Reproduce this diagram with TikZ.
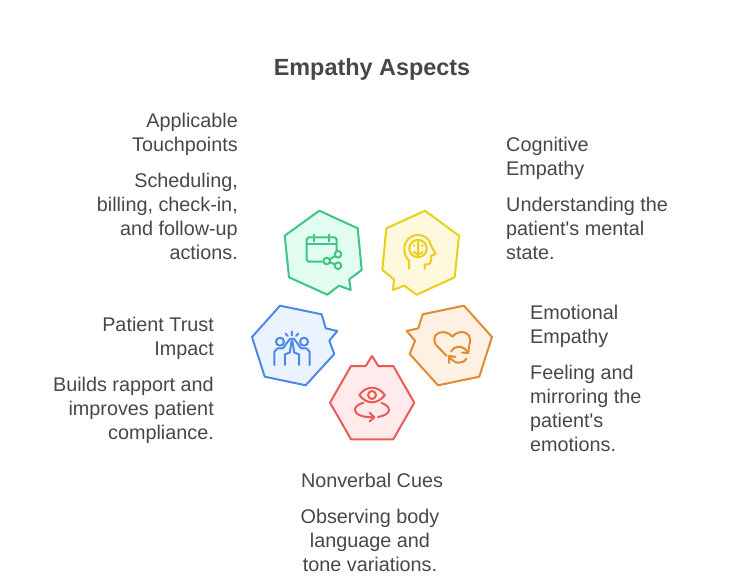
\documentclass[tikz,border=0pt]{standalone}
\usepackage{fontspec}
\setmainfont{Liberation Sans}[Ligatures=TeXOff]
\definecolor{txt}{HTML}{474747}
\definecolor{gS}{HTML}{3CC583}\definecolor{gF}{HTML}{E3FDF0}
\definecolor{yS}{HTML}{E8CF1E}\definecolor{yF}{HTML}{FEF9DC}
\definecolor{bS}{HTML}{4E88E7}\definecolor{bF}{HTML}{EBF3FE}
\definecolor{oS}{HTML}{E08A32}\definecolor{oF}{HTML}{FEF0E3}
\definecolor{rS}{HTML}{E85B56}\definecolor{rF}{HTML}{FFEBEB}
\tikzset{x=1pt,y=-1pt,
 hexa/.style={line width=2pt,line join=round},
 ico/.style={line width=2pt,line cap=round,line join=round},
 lab/.style={inner sep=0pt,text=txt,font=\fontsize{19.8}{24}\selectfont},
 tl/.style={lab,anchor=north west,align=left},
 tr/.style={lab,anchor=north east,align=right},
 tc/.style={lab,anchor=north,align=center}}
\begin{document}
\begin{tikzpicture}
\useasboundingbox (0,0) rectangle (744,577);
\node[lab,font=\fontsize{23.4}{28}\selectfont\bfseries] (title) at (372,69) {Empathy Aspects};
\draw[hexa,draw=gS,fill=gF] (319.3,210.7)--(357.7,228.3)--(361.7,270)--(349.3,279.3)--(350.7,290)--(339,285.7)--(327.3,294.7)--(289,277.3)--(284.7,235.7)--cycle;
\draw[hexa,draw=yS,fill=yF] (425,210.7)--(459,235.7)--(454.7,277.3)--(416.7,294.7)--(404.3,285.7)--(393,290)--(394,279.3)--(382.3,270)--(386.3,228.3)--cycle;
\draw[hexa,draw=bS,fill=bF] (280,305.7)--(321.7,314.3)--(325.7,328.3)--(337.3,331)--(329.3,340.7)--(334.3,354)--(305.7,385.3)--(264.7,376.7)--(252,337)--cycle;
\draw[hexa,draw=oS,fill=oF] (464,305.7)--(492,337)--(479.3,376.7)--(438,385.3)--(409.7,354)--(415,340.7)--(406.7,331)--(418.3,328.3)--(422.7,314.3)--cycle;
\draw[hexa,draw=rS,fill=rF] (372,356)--(378.3,366)--(393.3,366)--(414.3,402.7)--(393.3,439.3)--(351,439.3)--(330,402.7)--(351,366)--(365.7,366)--cycle;
% calendar / share icon
\draw[ico,draw=gS] (322,261.7)--(308.5,261.7) to[out=180,in=90] (306.7,260)--(306.7,239.5) to[out=-90,in=180] (308.5,237.5)--(335,237.5) to[out=0,in=-90] (336.7,239.5)--(336.7,251.5);
\draw[ico,draw=gS] (306.7,244.5)--(336.7,244.5) (314,234.5)--(314,241.5) (328.7,234.5)--(328.7,241.5);
\draw[ico,draw=gS] (338,254.3) circle[radius=3.3] (326.7,261) circle[radius=3.3] (338,265.7) circle[radius=3.3];
\draw[ico,draw=gS] (329.6,259.4)--(335.1,256) (329.7,262.3)--(335,264.4);
% head / brain icon
\draw[ico,draw=yS] (409,268.7)--(409,260.5) .. controls (405.5,257.5) and (404.3,253) .. (404.3,248.5) .. controls (404.3,240.5) and (410.5,235) .. (418,235) .. controls (425,235) and (430,239.5) .. (431,245.5) -- (435.7,254) -- (431,255.8) -- (431,261) .. controls (431,263) and (429.5,264.5) .. (427.5,264.5) -- (424.7,264.5) -- (424.7,269);
\draw[ico,draw=yS] (418,248.5) circle[radius=8.7];
\draw[ico,draw=yS] (418,240.5)--(418,257) (413.5,252)--(418,254.5)--(422.5,252);
\fill[yS] (413.8,245.5) circle[radius=1.3] (422.2,245.5) circle[radius=1.3];
% high five icon
\draw[ico,draw=bS] (280,341.7) circle[radius=4] (304,341.7) circle[radius=4];
\draw[ico,draw=bS] (274.3,365)--(274.3,351.5) to[out=-90,in=180] (278,348.3)--(283,348.3)--(289,340) to[out=-65,in=180] (290.5,338.5) to[out=0,in=-90] (292,340) to[out=-90,in=180] (293.5,338.5) to[out=0,in=-115] (295,340)--(301,348.3)--(306,348.3) to[out=0,in=-90] (309.7,351.5)--(309.7,365);
\draw[ico,draw=bS] (284.8,365)--(284.8,354.5)--(289.8,352.5)--(291.5,341.5) (299.2,365)--(299.2,354.5)--(294.2,352.5)--(292.5,341.5);
\draw[ico,draw=bS] (291.9,331.5)--(291.9,335.5) (285.5,333.5)--(287.7,336) (298.3,333.5)--(296.1,336);
% heart and cycle icon
\draw[ico,draw=oS] (446.7,356)--(437.5,346.5) .. controls (432.5,341.5) and (433.5,335) .. (438.5,333) .. controls (443.5,331) and (449,332.5) .. (452.3,336.7) .. controls (456,332) and (462,331) .. (466,333) .. controls (470.5,335.5) and (471,341) .. (469.3,345);
\draw[ico,draw=oS] (451,351.5) .. controls (454,345.5) and (463,344.5) .. (468,352.5);
\draw[ico,draw=oS] (469,346.5)--(468.3,353)--(462,352.5);
\draw[ico,draw=oS] (466.5,358.5) .. controls (463,364.5) and (454,364.5) .. (449.5,356.5);
\draw[ico,draw=oS] (449,363)--(449,356)--(455.5,356.8);
% eye icon
\draw[ico,draw=rS] (359.3,395) .. controls (363,390) and (367.5,387.7) .. (372,387.7) .. controls (376.5,387.7) and (381,390) .. (385,395) .. controls (381,400) and (376.5,402.3) .. (372,402.3) .. controls (367.5,402.3) and (363,400) .. (359.3,395) -- cycle;
\draw[ico,draw=rS] (372,395) circle[radius=4];
\draw[ico,draw=rS] (363.3,402.8) .. controls (357,404.5) and (355,407.5) .. (355,410) .. controls (355,414.5) and (363,417.5) .. (373.5,417.3);
\draw[ico,draw=rS] (369.5,412.5)--(374.3,417.3)--(369.5,421.5);
\draw[ico,draw=rS] (381.5,403) .. controls (386.5,404.5) and (389,407.5) .. (389,410) .. controls (389,413.5) and (384,416) .. (378,417);
\node[tr] (t1) at (238,112.5) {Applicable\\Touchpoints};
\node[tr] (t1b) at (238,172.5) {Scheduling,\\billing, check-in,\\and follow-up\\actions.};
\node[tl] (t2) at (506,136.5) {Cognitive\\Empathy};
\node[tl] (t2b) at (506,196.5) {Understanding the\\patient's mental\\state.};
\node[tl] (t3) at (530,304.5) {Emotional\\Empathy};
\node[tl] (t3b) at (530,364.5) {Feeling and\\mirroring the\\patient's\\emotions.};
\node[tr] (t4) at (214,316.5) {Patient Trust\\Impact};
\node[tr] (t4b) at (214,376.5) {Builds rapport and\\improves patient\\compliance.};
\node[tc] (t5) at (372,472.5) {Nonverbal Cues};
\node[tc] (t5b) at (370,508.5) {Observing body\\language and\\tone variations.};
\end{tikzpicture}
\end{document}
